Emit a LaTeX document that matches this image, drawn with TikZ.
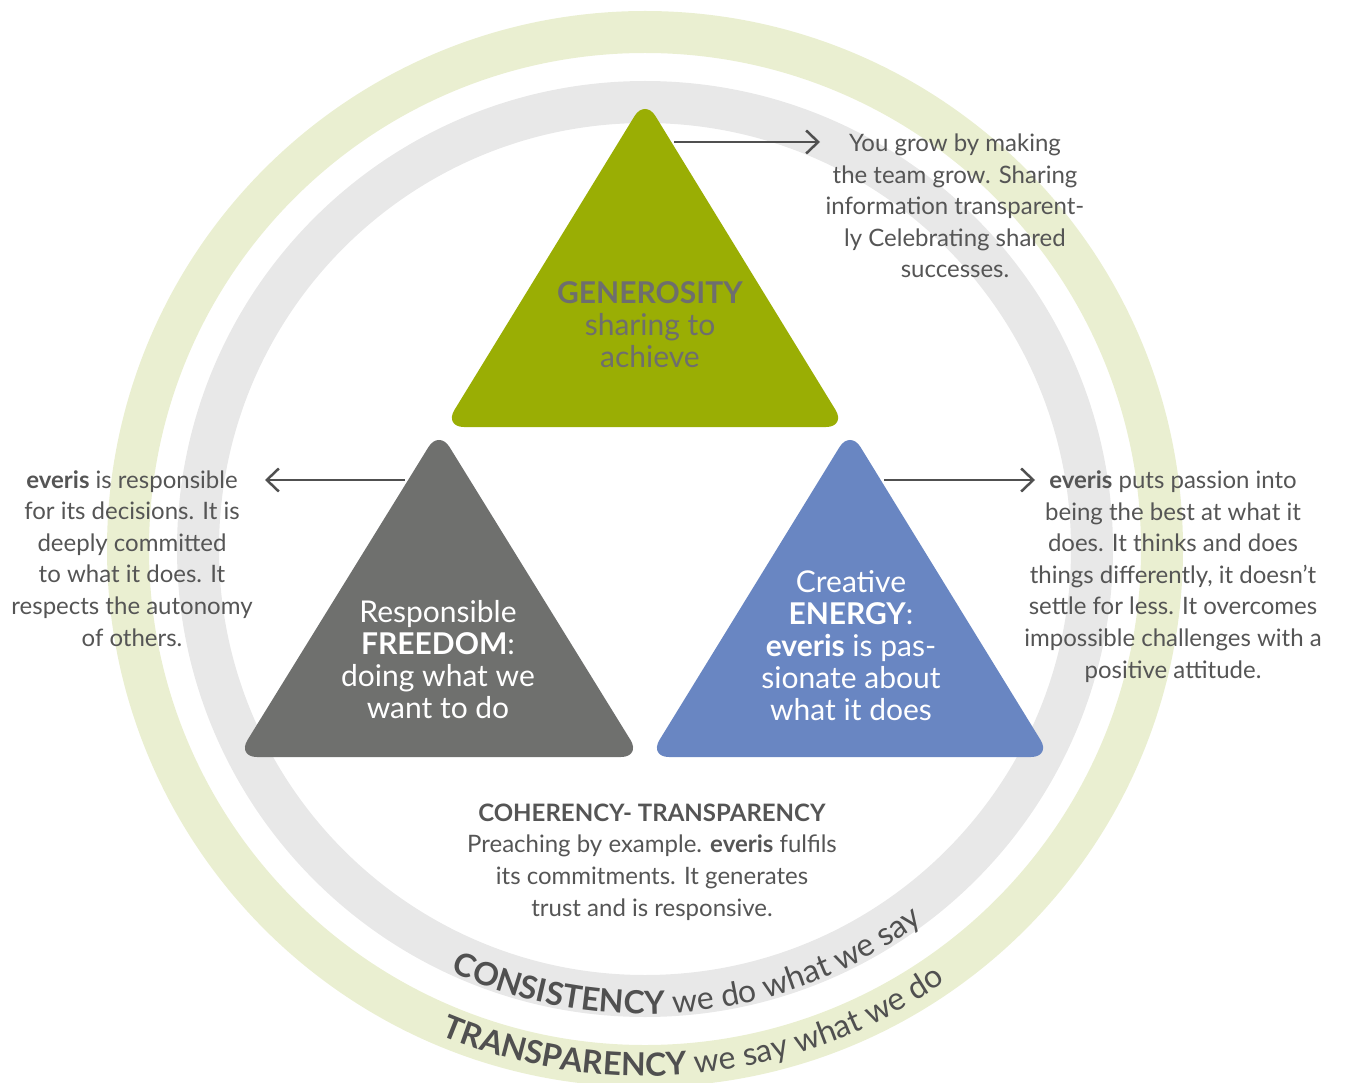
\documentclass[tikz,border=0pt]{standalone}
\usepackage{fontspec}
\setmainfont{Lato}
\usetikzlibrary{arrows.meta,decorations.text}
\definecolor{ringgreen}{HTML}{EAEFD1}
\definecolor{ringgray}{HTML}{E8E8E8}
\definecolor{trigreen}{HTML}{9AAE04}
\definecolor{trigray}{HTML}{6F706E}
\definecolor{triblue}{HTML}{6986C2}
\definecolor{txt}{HTML}{555555}
\definecolor{gentxt}{HTML}{6E6E6E}
\definecolor{curvetxt}{HTML}{505050}
\definecolor{arrowc}{HTML}{505050}
\newcommand\curvefont{\fontsize{32}{32}\selectfont\color{curvetxt}}
\begin{document}
\begin{tikzpicture}[x=1pt,y=1pt,
  ring/.style={line width=42pt},
  tri/.style={rounded corners=20pt},
  body/.style={font=\fontsize{24}{31.6}\selectfont, text=txt, align=center, inner sep=0pt, anchor=base},
  trilabel/.style={font=\fontsize{30}{32}\selectfont, align=center, inner sep=0pt, anchor=base},
  conn/.style={draw=arrowc, line width=2.5pt, -{Straight Barb[length=12pt,width=23pt]}},
  curve/.style={decorate, decoration={text along path, text align=center, text={#1}}}
]
\useasboundingbox (0,0) rectangle (1349,-1083);
% rings
\draw[ring, ringgreen] (645,-549) circle[radius=517];
\draw[ring, ringgray] (645,-549) circle[radius=447];
% triangles
\fill[tri, trigreen] (645,-99) -- (444,-427) -- (846,-427) -- cycle;
\fill[tri, trigray] (439,-430) -- (237,-757) -- (641,-757) -- cycle;
\fill[tri, triblue] (850,-430) -- (649,-757) -- (1051,-757) -- cycle;
% triangle labels (anchor = baseline of last line)
\node[trilabel, text=gentxt] (gen) at (650,-367) {\textbf{GENEROSITY}\\sharing to\\achieve};
\node[trilabel, text=white] (free) at (438,-718) {Responsible\\\textbf{FREEDOM}:\\doing what we\\want to do};
\node[trilabel, text=white] (ener) at (851,-720) {Creative\\\textbf{ENERGY}:\\\textbf{everis} is pas-\\sionate about\\what it does};
% descriptions
\node[body] (gdesc) at (955,-278) {You grow by making\\the team grow. Sharing\\information transparent-\\ly Celebrating shared\\successes.};
\node[body] (fdesc) at (132,-646) {\textbf{everis} is responsible\\for its decisions. It is\\deeply committed\\to what it does. It\\respects the autonomy\\of others.};
\node[body] (edesc) at (1173,-678) {\textbf{everis} puts passion into\\being the best at what it\\does. It thinks and does\\things differently, it doesn’t\\settle for less. It overcomes\\impossible challenges with a\\positive attitude.};
\node[body] (cdesc) at (652,-916) {\textbf{COHERENCY- TRANSPARENCY}\\Preaching by example. \textbf{everis} fulfils\\its commitments. It generates\\trust and is responsive.};
% connectors
\coordinate (ga) at (674,-142);
\coordinate (gb) at (820,-142);
\coordinate (fa) at (405,-480);
\coordinate (fb) at (265,-480);
\coordinate (ea) at (884,-480);
\coordinate (eb) at (1035,-480);
\draw[conn] (ga) -- (gb);
\draw[conn] (fa) -- (fb);
\draw[conn] (ea) -- (eb);
% curved texts
\path[curve={|\curvefont\bfseries|CONSISTENCY|\curvefont| we do what we say}]
  ([shift={(236:465)}]645,-549) arc[start angle=236, end angle=316, radius=465];
\path[curve={|\curvefont\bfseries|TRANSPARENCY|\curvefont| we say what we do}]
  ([shift={(236:527)}]645,-549) arc[start angle=236, end angle=316, radius=527];
\end{tikzpicture}
\end{document}
